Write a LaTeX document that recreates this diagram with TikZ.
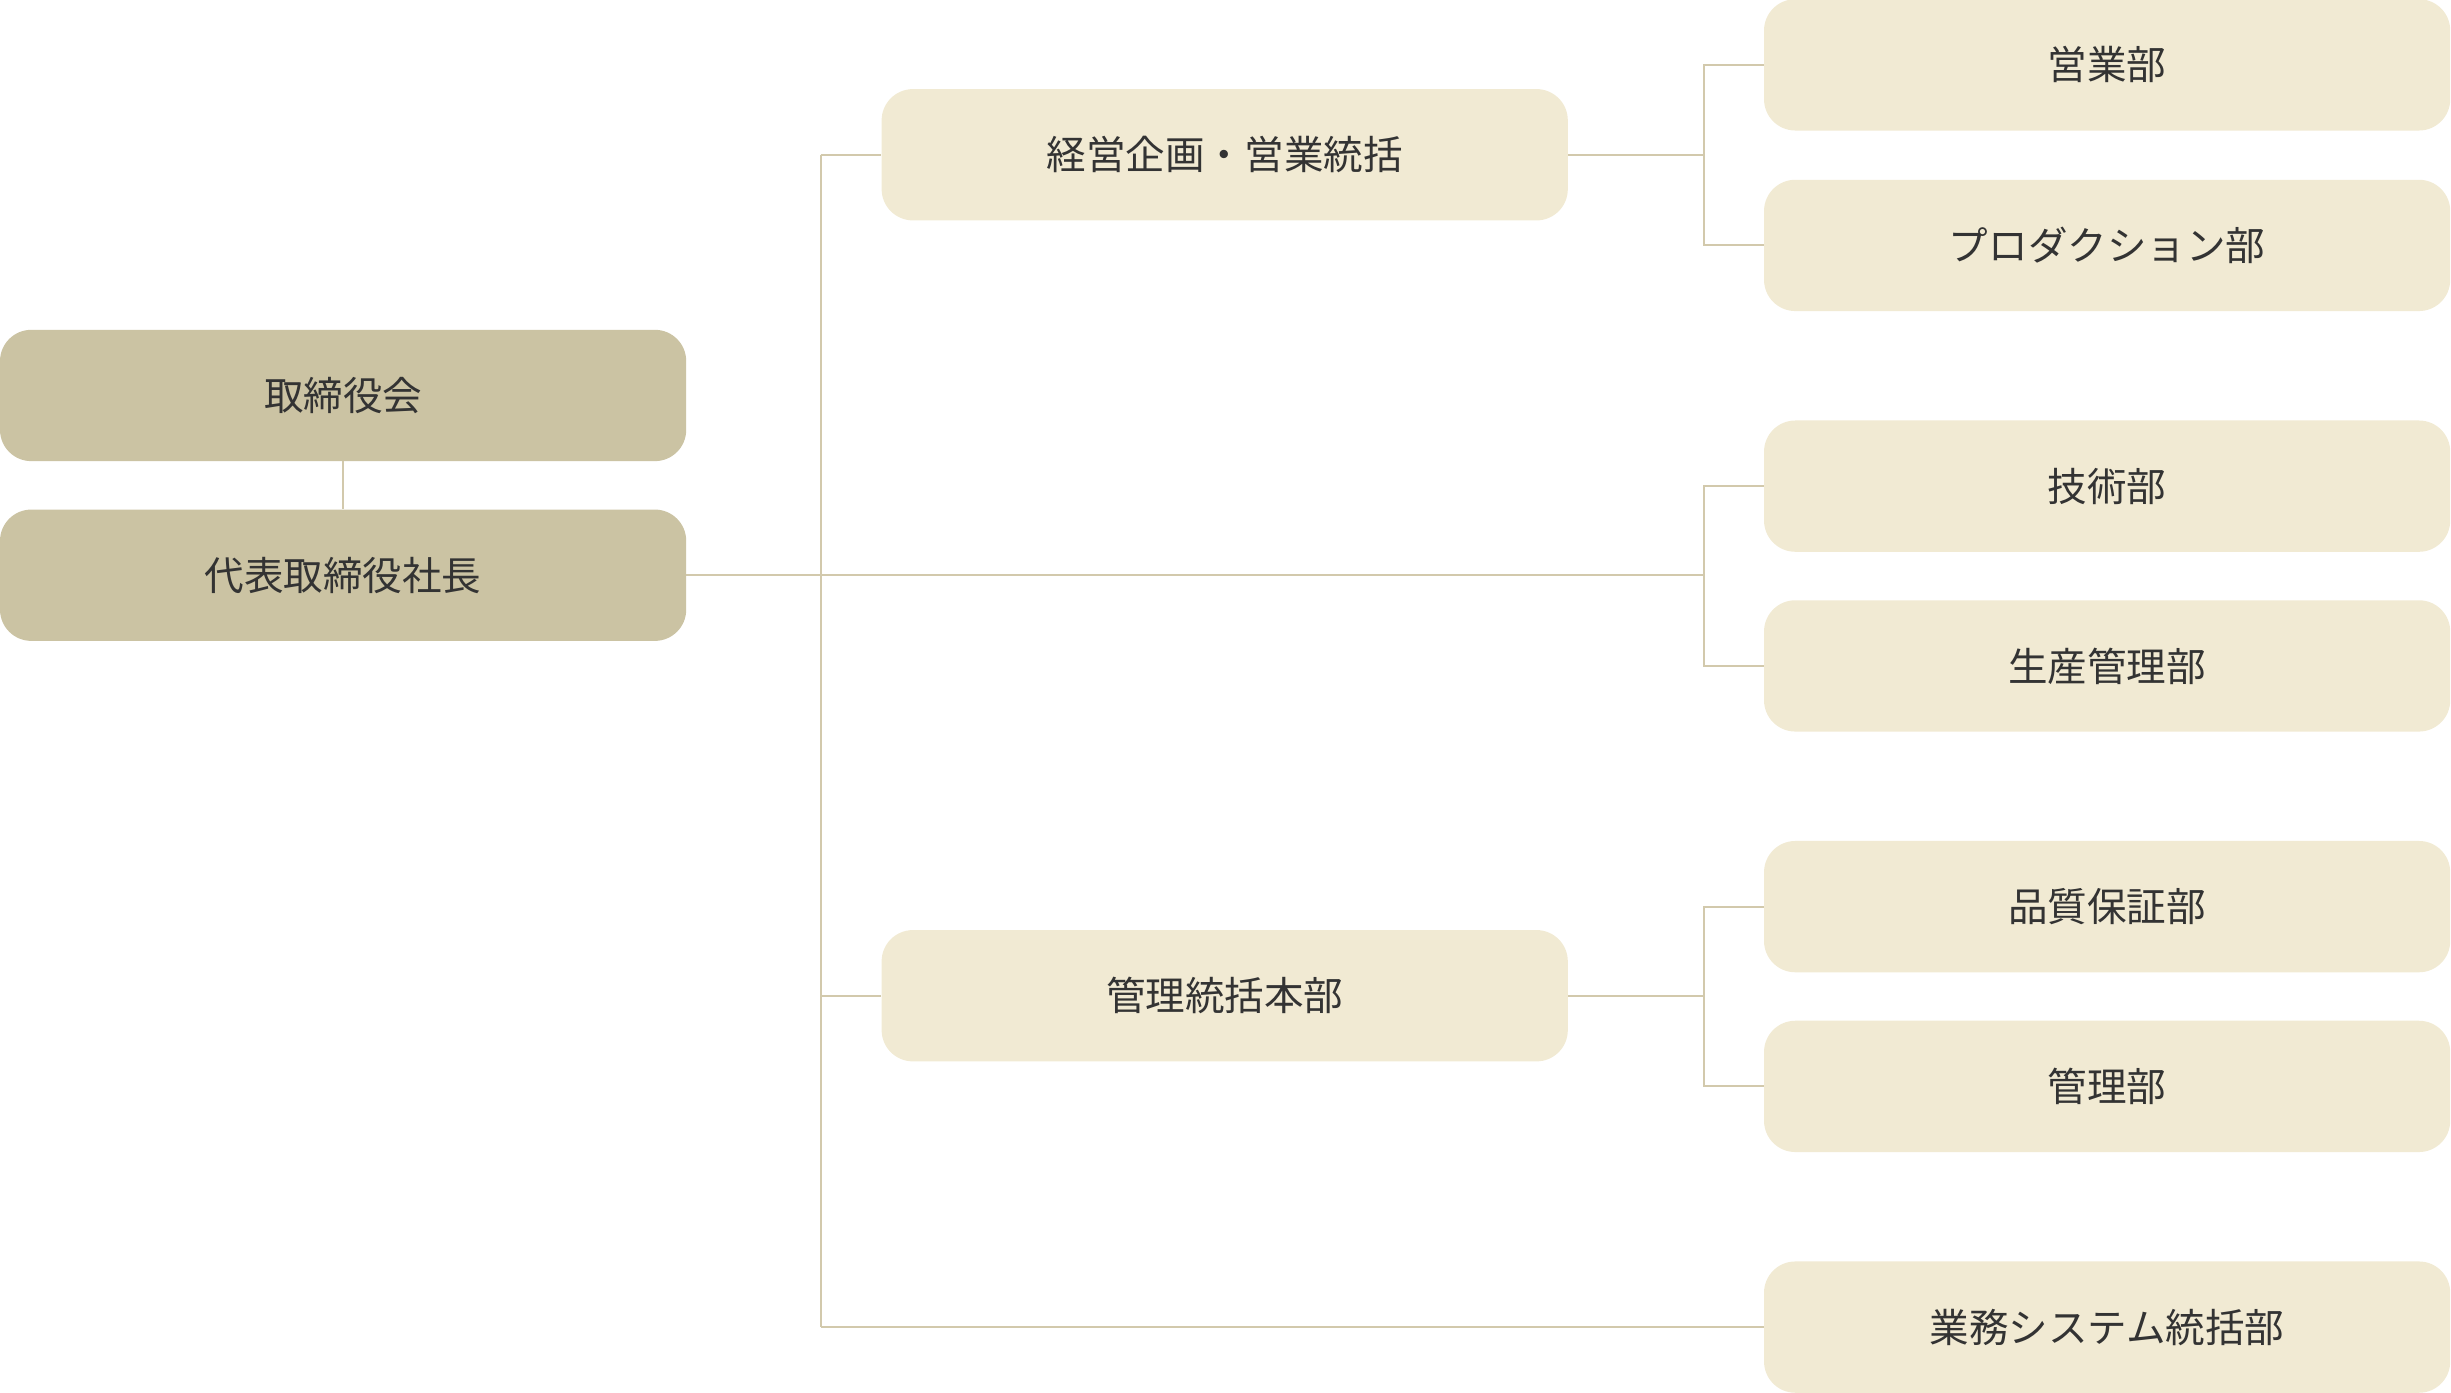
\documentclass[tikz,border=0pt]{standalone}
\usepackage{fontspec}
\setmainfont{Noto Sans CJK JP}
\definecolor{dk}{HTML}{CBC3A3}
\definecolor{lt}{HTML}{F1EAD3}
\definecolor{ln}{HTML}{D2C9AC}
\definecolor{tx}{HTML}{333333}
\begin{document}
\begin{tikzpicture}[x=0.05cm,y=-0.05cm,
  bx/.style={rounded corners=1cm,minimum width=21.95cm,minimum height=4.2cm,inner sep=0pt,font=\fontsize{36}{40}\selectfont,text=tx},
  dkb/.style={bx,fill=dk},
  ltb/.style={bx,fill=lt},
  cn/.style={draw=ln,line width=1.8pt}]
\useasboundingbox (0,0) rectangle (1568,891);
\node[dkb] (bd) at (219.5,253) {取締役会};
\node[dkb] (pr) at (219.5,368) {代表取締役社長};
\node[ltb] (k1) at (783.5,99) {経営企画・営業統括};
\node[ltb] (k2) at (783.5,637) {管理統括本部};
\node[ltb] (r1) at (1348,41.5) {営業部};
\node[ltb] (r2) at (1348,157) {プロダクション部};
\node[ltb] (r3) at (1348,311) {技術部};
\node[ltb] (r4) at (1348,426) {生産管理部};
\node[ltb] (r5) at (1348,580) {品質保証部};
\node[ltb] (r6) at (1348,695) {管理部};
\node[ltb] (r7) at (1348,849) {業務システム統括部};
\coordinate (va) at (525,99);
\coordinate (vb) at (525,849);
\draw[cn] (bd) -- (pr);
\draw[cn] (va) -- (vb);
\draw[cn] (va) -- (k1.west);
\draw[cn] (525,637) -- (k2.west);
\draw[cn] (vb) -- (r7.west);
\draw[cn] (pr.east) -- (1090,368);
\draw[cn] (r1.west) -| (1090,157) -- (r2.west);
\draw[cn] (r3.west) -| (1090,426) -- (r4.west);
\draw[cn] (r5.west) -| (1090,695) -- (r6.west);
\draw[cn] (k1.east) -- (1090,99);
\draw[cn] (k2.east) -- (1090,637);
\end{tikzpicture}
\end{document}
